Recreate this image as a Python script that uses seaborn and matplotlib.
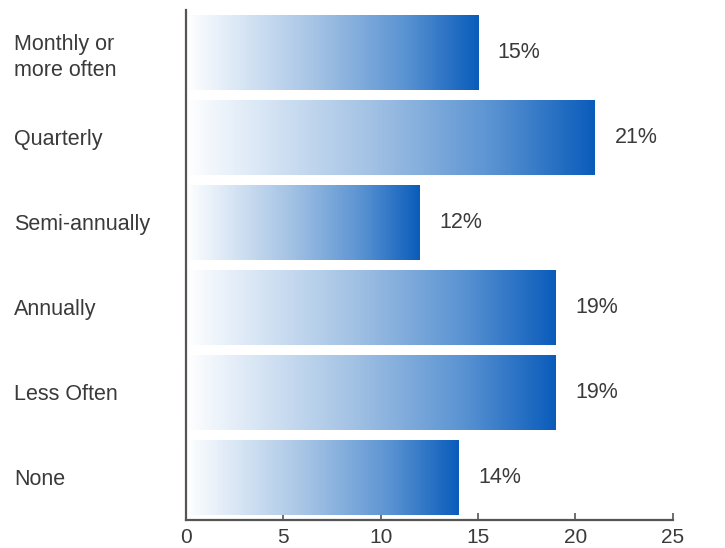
import matplotlib
matplotlib.use("Agg")
import matplotlib.pyplot as plt
import numpy as np
import pandas as pd
import seaborn as sns
from matplotlib.colors import LinearSegmentedColormap

categories = ["Monthly or\nmore often", "Quarterly", "Semi-annually",
              "Annually", "Less Often", "None"]
values = [15, 21, 12, 19, 19, 14]
value_labels = ["15%", "21%", "12%", "19%", "19%", "14%"]
x_ticks = [0, 5, 10, 15, 20, 25]

df = pd.DataFrame({"category": categories, "value": values})

sns.set_theme(style="white")
plt.rcParams["font.family"] = ["Liberation Sans", "DejaVu Sans"]

fig = plt.figure(figsize=(7.25, 5.48), dpi=100)
ax = fig.add_axes([0.2566, 0.0511, 0.928 - 0.2566, 0.9818 - 0.0511])

sns.barplot(data=df, x="value", y="category", orient="h", ax=ax,
            width=0.88, color="white", edgecolor="none", linewidth=0)

# white-to-blue horizontal gradient per bar
cmap = LinearSegmentedColormap.from_list(
    "bluefade",
    [(0.0, "#ffffff"), (0.12, "#e6eff9"), (0.45, "#a3c2e4"),
     (0.75, "#5a93d2"), (1.0, "#0a5cbb")])
grad = np.linspace(0, 1, 256).reshape(1, -1)

ax.set_xlim(0, 25)
ax.set_ylim(5.5, -0.5)

for patch in ax.patches:
    x0, y0 = patch.get_x(), patch.get_y()
    w, h = patch.get_width(), patch.get_height()
    im = ax.imshow(grad, cmap=cmap, aspect="auto",
                   extent=(x0, x0 + w, y0 + h, y0), zorder=2,
                   interpolation="bilinear")
    im.set_clip_path(patch)

ax.set_xlim(0, 25)
ax.set_ylim(5.5, -0.5)

for i, (v, lab) in enumerate(zip(values, value_labels)):
    ax.text(v + 1.0, i, lab, va="center", ha="left",
            fontsize=15.5, color="#3a3a3a", zorder=3)

ax.set_xticks(x_ticks)
ax.set_xticklabels([str(t) for t in x_ticks])
ax.set_xlabel("")
ax.set_ylabel("")

for side in ["top", "right"]:
    ax.spines[side].set_visible(False)
for side in ["left", "bottom"]:
    ax.spines[side].set_visible(True)
    ax.spines[side].set_color("#555555")
    ax.spines[side].set_linewidth(1.6)

ax.tick_params(axis="x", direction="in", length=5, width=1.2,
               colors="#555555", labelcolor="#3a3a3a", labelsize=15,
               pad=6, bottom=True)
ax.tick_params(axis="y", length=0, pad=124, labelsize=15.5,
               labelcolor="#3a3a3a")
for lbl in ax.get_yticklabels():
    lbl.set_horizontalalignment("left")
    lbl.set_linespacing(1.3)

fig.savefig("out.png", dpi=100, facecolor="white")
